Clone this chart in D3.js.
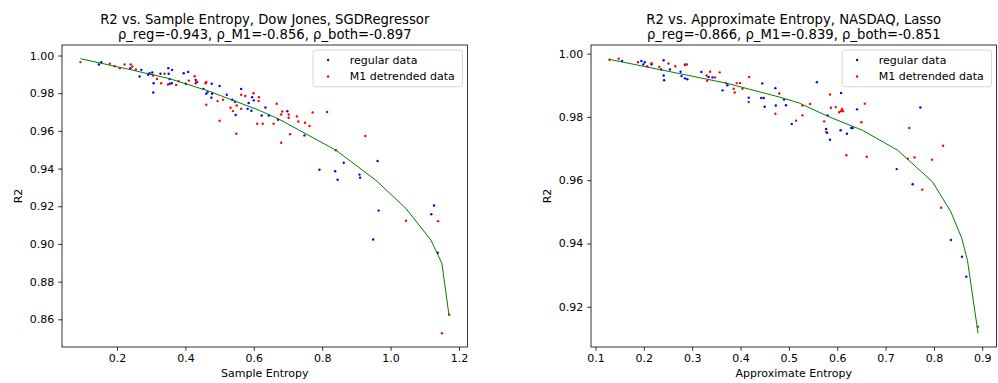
<!DOCTYPE html>
<html>
<head>
<meta charset="utf-8">
<script src="https://cdn.jsdelivr.net/npm/d3@7"></script>
<style>
  body { margin: 0; background: #fff; }
  svg { font-family: "DejaVu Sans", sans-serif; }
</style>
</head>
<body>
<div id="chart-container"></div>
<script>
// Dow Jones / SGDRegressor : [sample entropy, R2]
const dowRegular = [[0.147,0.9952],[0.154,0.9965],[0.239,0.9933],[0.266,0.9889],[0.271,0.9924],[0.291,0.9898],[0.295,0.9906],[0.303,0.9910],[0.307,0.9853],[0.306,0.9804],[0.327,0.9903],[0.350,0.9933],[0.351,0.9903],[0.361,0.9924],[0.354,0.9875],[0.354,0.9850],[0.360,0.9853],[0.395,0.9906],[0.408,0.9913],[0.401,0.9850],[0.430,0.9871],[0.434,0.9860],[0.453,0.9823],[0.461,0.9797],[0.465,0.9806],[0.476,0.9776],[0.478,0.9797],[0.477,0.9850],[0.500,0.9838],[0.521,0.9792],[0.537,0.9765],[0.545,0.9755],[0.547,0.9684],[0.563,0.9823],[0.585,0.9748],[0.582,0.9717],[0.593,0.9707],[0.595,0.9779],[0.600,0.9762],[0.623,0.9682],[0.634,0.9724],[0.644,0.9682],[0.671,0.9659],[0.698,0.9704],[0.748,0.9576],[0.792,0.9394],[0.838,0.9386],[0.845,0.9341],[0.863,0.9431],[0.909,0.9368],[0.911,0.9352],[0.962,0.9440],[0.965,0.9177],[0.949,0.9024],[1.127,0.9204],[1.119,0.9158],[1.138,0.8953]];
const dowM1 = [[0.093,0.9965],[0.179,0.9956],[0.193,0.9943],[0.208,0.9933],[0.222,0.9952],[0.240,0.9952],[0.245,0.9942],[0.255,0.9926],[0.305,0.9894],[0.317,0.9876],[0.329,0.9853],[0.339,0.9903],[0.349,0.9846],[0.373,0.9844],[0.380,0.9864],[0.410,0.9867],[0.427,0.9890],[0.430,0.9853],[0.432,0.9860],[0.459,0.9853],[0.461,0.9860],[0.461,0.9739],[0.494,0.9758],[0.500,0.9654],[0.510,0.9765],[0.532,0.9723],[0.539,0.9705],[0.549,0.9585],[0.550,0.9735],[0.563,0.9792],[0.563,0.9717],[0.575,0.9785],[0.599,0.9800],[0.615,0.9779],[0.614,0.9758],[0.610,0.9638],[0.626,0.9638],[0.658,0.9638],[0.667,0.9744],[0.680,0.9687],[0.683,0.9703],[0.702,0.9687],[0.702,0.9670],[0.706,0.9582],[0.726,0.9677],[0.730,0.9650],[0.750,0.9643],[0.763,0.9626],[0.772,0.9698],[0.814,0.9700],[0.680,0.9537],[0.840,0.9497],[0.926,0.9573],[1.045,0.9123],[1.139,0.9121],[1.171,0.8626],[1.150,0.8526]];
const dowFit = [[0.093,0.9983],[0.227,0.9930],[0.354,0.9877],[0.470,0.9810],[0.616,0.9709],[0.675,0.9661],[0.8405,0.9497],[0.957,0.9338],[1.045,0.9188],[1.118,0.9020],[1.150,0.8897],[1.171,0.8619]];

// NASDAQ / Lasso : [approximate entropy, R2]
const nasdaqRegular = [[0.155,0.9977],[0.195,0.9977],[0.199,0.9966],[0.202,0.9973],[0.216,0.9966],[0.236,0.9950],[0.241,0.9979],[0.241,0.9931],[0.242,0.9916],[0.254,0.9950],[0.276,0.9943],[0.278,0.9929],[0.285,0.9922],[0.285,0.9965],[0.290,0.9919],[0.319,0.9942],[0.334,0.9926],[0.342,0.9925],[0.363,0.9884],[0.373,0.9900],[0.417,0.9861],[0.443,0.9860],[0.448,0.9860],[0.445,0.9906],[0.450,0.9832],[0.472,0.9891],[0.473,0.9836],[0.490,0.9855],[0.494,0.9837],[0.506,0.9778],[0.558,0.9910],[0.577,0.9762],[0.579,0.9750],[0.580,0.9805],[0.585,0.9728],[0.607,0.9758],[0.608,0.9876],[0.620,0.9747],[0.629,0.9765],[0.632,0.9765],[0.641,0.9824],[0.723,0.9635],[0.756,0.9587],[0.772,0.9830],[0.835,0.9411],[0.858,0.9358],[0.867,0.9295]];
const nasdaqM1 = [[0.129,0.9981],[0.148,0.9984],[0.188,0.9973],[0.207,0.9960],[0.216,0.9970],[0.232,0.9958],[0.251,0.9969],[0.265,0.9960],[0.286,0.9965],[0.289,0.9966],[0.330,0.9931],[0.337,0.9943],[0.331,0.9914],[0.347,0.9925],[0.357,0.9941],[0.370,0.9907],[0.386,0.9889],[0.388,0.9877],[0.392,0.9907],[0.399,0.9907],[0.404,0.9889],[0.417,0.9847],[0.418,0.9926],[0.472,0.9810],[0.480,0.9874],[0.515,0.9788],[0.528,0.9836],[0.528,0.9805],[0.544,0.9841],[0.573,0.9786],[0.577,0.9752],[0.585,0.9871],[0.587,0.9829],[0.597,0.9831],[0.604,0.9815],[0.608,0.9819],[0.610,0.9825],[0.612,0.9818],[0.619,0.9679],[0.650,0.9783],[0.657,0.9842],[0.661,0.9674],[0.746,0.9668],[0.749,0.9765],[0.760,0.9672],[0.776,0.9570],[0.796,0.9665],[0.819,0.9709],[0.815,0.9513],[0.891,0.9137]];
const nasdaqFit = [[0.1289,0.9982],[0.2735,0.9937],[0.370,0.9907],[0.480,0.9863],[0.5214,0.9844],[0.5835,0.9800],[0.652,0.9758],[0.7247,0.9695],[0.797,0.9595],[0.835,0.9500],[0.8576,0.9416],[0.8693,0.9347],[0.8913,0.9116]];

// tick values
const dowXTicks = [0.2, 0.4, 0.6, 0.8, 1.0, 1.2];
const dowYTicks = [0.86, 0.88, 0.90, 0.92, 0.94, 0.96, 0.98, 1.00];
const nasdaqXTicks = [0.1, 0.2, 0.3, 0.4, 0.5, 0.6, 0.7, 0.8, 0.9];
const nasdaqYTicks = [0.92, 0.94, 0.96, 0.98, 1.00];

const legendLabels = ["regular data", "M1 detrended data"];

const svg = d3.select("#chart-container")
    .append("svg")
    .attr("width", 998)
    .attr("height", 383);

// pad like matplotlib (5% each side)
function padded(ext) {
    const m = (ext[1] - ext[0]) * 0.05;
    return [ext[0] - m, ext[1] + m];
}

function drawPanel(p) {
    const all = p.regular.concat(p.m1, p.fit);
    const x = d3.scaleLinear().domain(padded(d3.extent(all, d => d[0]))).range([p.left, p.right]);
    const y = d3.scaleLinear().domain(padded(d3.extent(all, d => d[1]))).range([p.bottom, p.top]);

    const g = svg.append("g");

    // axes
    const xAxis = g.append("g")
        .attr("transform", "translate(0," + p.bottom + ")")
        .call(d3.axisBottom(x).tickValues(p.xTicks).tickSize(3.85).tickPadding(3.5).tickFormat(d3.format(".1f")));
    const yAxis = g.append("g")
        .attr("transform", "translate(" + p.left + ",0)")
        .call(d3.axisLeft(y).tickValues(p.yTicks).tickSize(3.85).tickPadding(3.85).tickFormat(d3.format(".2f")));
    [xAxis, yAxis].forEach(a => {
        a.select(".domain").remove();
        a.selectAll("line").attr("stroke", "#000").attr("stroke-width", 0.8);
        a.selectAll("text").attr("font-size", 11).attr("fill", "#000").attr("font-family", "DejaVu Sans");
    });

    // points
    g.append("g").selectAll("circle")
        .data(p.regular)
        .enter().append("circle")
        .attr("cx", d => x(d[0]))
        .attr("cy", d => y(d[1]))
        .attr("r", 1.2)
        .attr("fill", "blue");
    g.append("g").selectAll("circle")
        .data(p.m1)
        .enter().append("circle")
        .attr("cx", d => x(d[0]))
        .attr("cy", d => y(d[1]))
        .attr("r", 1.2)
        .attr("fill", "red");

    // fit line
    g.append("path")
        .datum(p.fit)
        .attr("fill", "none")
        .attr("stroke", "green")
        .attr("stroke-width", 1)
        .attr("d", d3.line().x(d => x(d[0])).y(d => y(d[1])));

    // frame
    g.append("rect")
        .attr("x", p.left).attr("y", p.top)
        .attr("width", p.right - p.left).attr("height", p.bottom - p.top)
        .attr("fill", "none").attr("stroke", "#000").attr("stroke-width", 0.8);

    // titles
    const cx = (p.left + p.right) / 2;
    g.append("text").attr("x", cx).attr("y", 24).attr("text-anchor", "middle")
        .attr("font-size", 13.2).text(p.title1);
    g.append("text").attr("x", cx).attr("y", 38.5).attr("text-anchor", "middle")
        .attr("font-size", 13.2).text(p.title2);
    g.append("text").attr("x", cx).attr("y", 377).attr("text-anchor", "middle")
        .attr("font-size", 11).text(p.xLabel);
    g.append("text")
        .attr("transform", "translate(" + p.yLabelX + "," + ((p.top + p.bottom) / 2) + ") rotate(-90)")
        .attr("text-anchor", "middle").attr("font-size", 11).text("R2");

    // legend
    const lx = p.right - 5 - 149.4, ly = p.top + 5;
    const leg = g.append("g").attr("transform", "translate(" + lx + "," + ly + ")");
    leg.append("rect").attr("width", 149.4).attr("height", 36.7).attr("rx", 2.5)
        .attr("fill", "#fff").attr("fill-opacity", 0.8)
        .attr("stroke", "#cccccc").attr("stroke-width", 0.8);
    legendLabels.forEach((lab, i) => {
        leg.append("circle").attr("cx", 15).attr("cy", 10 + i * 16.5).attr("r", 1.2)
            .attr("fill", i === 0 ? "blue" : "red");
        leg.append("text").attr("x", 36.7).attr("y", 10 + i * 16.5).attr("dy", "0.35em")
            .attr("font-size", 11).text(lab);
    });
}

drawPanel({
    regular: dowRegular, m1: dowM1, fit: dowFit,
    left: 62, right: 467.5, top: 45, bottom: 347,
    xTicks: dowXTicks, yTicks: dowYTicks,
    title1: "R2 vs. Sample Entropy, Dow Jones, SGDRegressor",
    title2: "ρ_reg=-0.943, ρ_M1=-0.856, ρ_both=-0.897",
    xLabel: "Sample Entropy", yLabelX: 22
});

drawPanel({
    regular: nasdaqRegular, m1: nasdaqM1, fit: nasdaqFit,
    left: 591, right: 996.5, top: 45, bottom: 347,
    xTicks: nasdaqXTicks, yTicks: nasdaqYTicks,
    title1: "R2 vs. Approximate Entropy, NASDAQ, Lasso",
    title2: "ρ_reg=-0.866, ρ_M1=-0.839, ρ_both=-0.851",
    xLabel: "Approximate Entropy", yLabelX: 551
});
</script>
</body>
</html>
